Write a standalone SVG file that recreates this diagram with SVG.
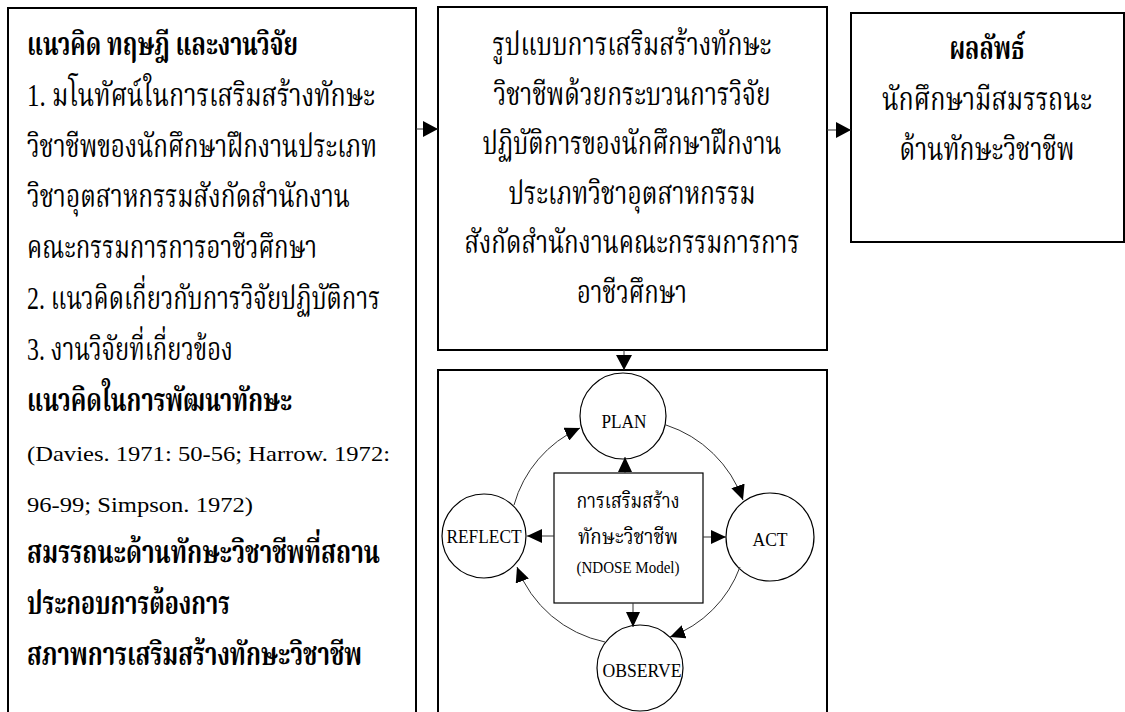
<svg xmlns="http://www.w3.org/2000/svg" width="1125" height="712" viewBox="0 0 1125 712">
<defs>
<style>
.box{fill:#fff;stroke:#000;stroke-width:2}
.ib{fill:#fff;stroke:#000;stroke-width:1.2}
.c{fill:#fff;stroke:#000;stroke-width:1.2}
.t{font-family:"Liberation Serif","Noto Serif Thai","Noto Sans Thai","Garuda","Norasi","Loma",serif;font-size:32px;fill:#000}
.e{font-size:22px}
.b{font-weight:bold}
.m{text-anchor:middle}
.s{font-size:22px}
.l{font-size:18px}
.ln{fill:none;stroke:#333;stroke-width:1}
</style>
<marker id="ah" viewBox="0 0 15 16" refX="15" refY="8" markerWidth="15" markerHeight="16" markerUnits="userSpaceOnUse" orient="auto">
<path d="M0,0 L15,8 L0,16 Z" fill="#000"/>
</marker>
<marker id="as" viewBox="0 0 15 14" refX="15" refY="7" markerWidth="15" markerHeight="14" markerUnits="userSpaceOnUse" orient="auto">
<path d="M0,0 L15,7 L0,14 Z" fill="#000"/>
</marker>
</defs>

<g id="left-box">
<rect class="box" x="8" y="8" width="408" height="720"/>
<text class="t b" x="27" y="55" textLength="271" lengthAdjust="spacingAndGlyphs">แนวคิด ทฤษฎี และงานวิจัย</text>
<text class="t" x="27" y="105.8" textLength="348" lengthAdjust="spacingAndGlyphs">1. มโนทัศน์ในการเสริมสร้างทักษะ</text>
<text class="t" x="27" y="156.6" textLength="350" lengthAdjust="spacingAndGlyphs">วิชาชีพของนักศึกษาฝึกงานประเภท</text>
<text class="t" x="27" y="207.4" textLength="323" lengthAdjust="spacingAndGlyphs">วิชาอุตสาหกรรมสังกัดสำนักงาน</text>
<text class="t" x="27" y="258.2" textLength="290" lengthAdjust="spacingAndGlyphs">คณะกรรมการการอาชีวศึกษา</text>
<text class="t" x="27" y="309" textLength="353" lengthAdjust="spacingAndGlyphs">2. แนวคิดเกี่ยวกับการวิจัยปฏิบัติการ</text>
<text class="t" x="27" y="359.8" textLength="206" lengthAdjust="spacingAndGlyphs">3. งานวิจัยที่เกี่ยวข้อง</text>
<text class="t b" x="27" y="410.6" textLength="265" lengthAdjust="spacingAndGlyphs">แนวคิดในการพัฒนาทักษะ</text>
<text class="t e" x="27" y="461.4" textLength="363" lengthAdjust="spacingAndGlyphs">(Davies. 1971: 50-56; Harrow. 1972:</text>
<text class="t e" x="27" y="512.2" textLength="226" lengthAdjust="spacingAndGlyphs">96-99; Simpson. 1972)</text>
<text class="t b" x="27" y="563" textLength="353" lengthAdjust="spacingAndGlyphs">สมรรถนะด้านทักษะวิชาชีพที่สถาน</text>
<text class="t b" x="27" y="613.8" textLength="203" lengthAdjust="spacingAndGlyphs">ประกอบการต้องการ</text>
<text class="t b" x="27" y="664.6" textLength="335" lengthAdjust="spacingAndGlyphs">สภาพการเสริมสร้างทักษะวิชาชีพ</text>
</g>

<g id="model-box">
<rect class="box" x="438" y="7" width="389" height="343"/>
<text class="t m" x="632" y="55" textLength="279" lengthAdjust="spacingAndGlyphs">รูปแบบการเสริมสร้างทักษะ</text>
<text class="t m" x="632" y="104.6" textLength="277" lengthAdjust="spacingAndGlyphs">วิชาชีพด้วยกระบวนการวิจัย</text>
<text class="t m" x="632" y="154.2" textLength="299" lengthAdjust="spacingAndGlyphs">ปฏิบัติการของนักศึกษาฝึกงาน</text>
<text class="t m" x="632" y="203.8" textLength="247" lengthAdjust="spacingAndGlyphs">ประเภทวิชาอุตสาหกรรม</text>
<text class="t m" x="632" y="253.4" textLength="335" lengthAdjust="spacingAndGlyphs">สังกัดสำนักงานคณะกรรมการการ</text>
<text class="t m" x="632" y="303" textLength="110" lengthAdjust="spacingAndGlyphs">อาชีวศึกษา</text>
</g>

<g id="result-box">
<rect class="box" x="851" y="13" width="273" height="229"/>
<text class="t b m" x="987" y="59" textLength="75" lengthAdjust="spacingAndGlyphs">ผลลัพธ์</text>
<text class="t m" x="987" y="110" textLength="210" lengthAdjust="spacingAndGlyphs">นักศึกษามีสมรรถนะ</text>
<text class="t m" x="987" y="160" textLength="175" lengthAdjust="spacingAndGlyphs">ด้านทักษะวิชาชีพ</text>
</g>

<g id="cycle-box">
<rect class="box" x="438" y="370" width="389" height="360"/>
</g>

<g id="center-node">
<rect class="ib" x="554" y="473" width="149" height="130"/>
<text class="t m s" x="628" y="508" textLength="103" lengthAdjust="spacingAndGlyphs">การเสริมสร้าง</text>
<text class="t m s" x="628" y="544" textLength="100" lengthAdjust="spacingAndGlyphs">ทักษะวิชาชีพ</text>
<text class="t m" x="628" y="573" style="font-size:16px" textLength="103" lengthAdjust="spacingAndGlyphs">(NDOSE Model)</text>
</g>

<g id="plan">
<circle class="c" cx="623" cy="416" r="43"/>
<text class="t m l" x="624" y="428" textLength="45" lengthAdjust="spacingAndGlyphs">PLAN</text>
</g>
<g id="act">
<circle class="c" cx="770" cy="537" r="44"/>
<text class="t m l" x="770" y="546" textLength="35" lengthAdjust="spacingAndGlyphs">ACT</text>
</g>
<g id="observe">
<circle class="c" cx="640" cy="668" r="43"/>
<text class="t m l" x="642" y="677" textLength="79" lengthAdjust="spacingAndGlyphs">OBSERVE</text>
</g>
<g id="reflect">
<circle class="c" cx="484" cy="536" r="42"/>
<text class="t m l" x="484" y="543" textLength="75" lengthAdjust="spacingAndGlyphs">REFLECT</text>
</g>

<g id="connectors">
<line class="ln" x1="416" y1="129" x2="438" y2="129" marker-end="url(#ah)"/>
<line class="ln" x1="827" y1="130" x2="851" y2="130" marker-end="url(#ah)"/>
<line class="ln" x1="624" y1="350" x2="624" y2="370" marker-end="url(#ah)"/>
<line class="ln" x1="625" y1="473" x2="625" y2="457" marker-end="url(#as)"/>
<line class="ln" x1="703" y1="537" x2="726" y2="537" marker-end="url(#as)"/>
<line class="ln" x1="554" y1="536" x2="527" y2="536" marker-end="url(#as)"/>
<line class="ln" x1="633" y1="603" x2="633" y2="627" marker-end="url(#as)"/>
<path class="ln" d="M666,425 A122,122 0 0 1 743,500" marker-end="url(#as)"/>
<path class="ln" d="M740,567 A118,118 0 0 1 670,637" marker-end="url(#as)"/>
<path class="ln" d="M605,642 A120,120 0 0 1 517,567" marker-end="url(#as)"/>
<path class="ln" d="M514,505 A120,120 0 0 1 580,428" marker-end="url(#as)"/>
</g>
</svg>
